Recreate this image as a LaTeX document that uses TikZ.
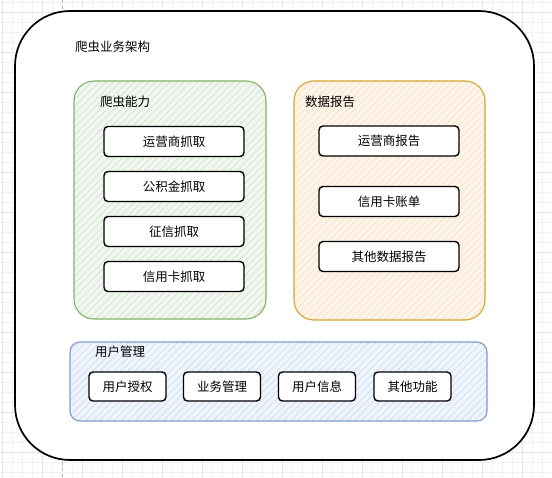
\documentclass[tikz,border=0pt]{standalone}
\usepackage{fontspec}
\setmainfont{Noto Sans CJK SC}
\usetikzlibrary{patterns.meta}
\definecolor{gridminor}{HTML}{F1F1F1}
\definecolor{gridmajor}{HTML}{E4E4E4}
\definecolor{grnline}{HTML}{82B366}
\definecolor{grnfill}{HTML}{CFE3CC}
\definecolor{orgline}{HTML}{D6A42E}
\definecolor{orgfill}{HTML}{F8E0C2}
\definecolor{bluline}{HTML}{7E9CC8}
\definecolor{blufill}{HTML}{CCDCF2}
\tikzset{
  group/.style={line width=1.1pt, rounded corners=20pt},
  item/.style={draw=black, line width=1.4pt, fill=white, rounded corners=4pt,
    minimum width=140pt, minimum height=30pt, inner sep=0pt, font=\fontsize{12.5pt}{14pt}\selectfont},
  smallitem/.style={item, minimum width=77pt, minimum height=29pt},
  title/.style={anchor=west, inner sep=0pt, font=\fontsize{12.5pt}{14pt}\selectfont},
}
\begin{document}
\begin{tikzpicture}[x=1pt,y=-1pt]
\useasboundingbox (0,0) rectangle (552,478);
\fill[white] (0,0) rectangle (552,478);
% grid background
\foreach \i in {2,12,...,552} \draw[gridminor, line width=0.5pt] (\i,0) -- (\i,478);
\foreach \j in {2,12,...,478} \draw[gridminor, line width=0.5pt] (0,\j) -- (552,\j);
\foreach \i in {2,42,...,552} \draw[gridmajor, line width=0.6pt] (\i,0) -- (\i,478);
\foreach \j in {12,52,...,478} \draw[gridmajor, line width=0.6pt] (0,\j) -- (552,\j);
\draw[gray!60, dashed, line width=0.5pt] (62,0) -- (62,478);
% outer frame
\node[draw=black, fill=white, line width=1.7pt, rounded corners=55pt, minimum width=519pt, minimum height=449pt, inner sep=0pt] (outer) at (274.5,235.5) {};
\node[title] (toptitle) at (75,47) {爬虫业务架构};
% groups
\node[group, draw=grnline, minimum width=192pt, minimum height=238pt, inner sep=0pt,
  preaction={fill=grnfill!30},
  pattern={Lines[angle=45,distance=5pt,line width=0.7pt]}, pattern color=grnfill] (crawl) at (170,200) {};
\node[group, draw=orgline, minimum width=191pt, minimum height=239pt, inner sep=0pt,
  preaction={fill=orgfill!35},
  pattern={Lines[angle=45,distance=5pt,line width=0.7pt]}, pattern color=orgfill] (report) at (389.5,200.5) {};
\node[group, rounded corners=10pt, draw=bluline, minimum width=417pt, minimum height=79pt, inner sep=0pt,
  preaction={fill=blufill!30},
  pattern={Lines[angle=45,distance=5pt,line width=0.7pt]}, pattern color=blufill] (user) at (278.5,381.5) {};
\node[title] (crawlt) at (100,102) {爬虫能力};
\node[title] (reportt) at (305,102) {数据报告};
\node[title] (usert) at (95,352) {用户管理};
% crawler items
\node[item] (c1) at (174,141.5) {运营商抓取};
\node[item] (c2) at (174,186.5) {公积金抓取};
\node[item] (c3) at (174,231.5) {征信抓取};
\node[item] (c4) at (174,276.5) {信用卡抓取};
% report items
\node[item] (r1) at (389,141) {运营商报告};
\node[item] (r2) at (389,201.5) {信用卡账单};
\node[item] (r3) at (389,256.5) {其他数据报告};
% user items
\node[smallitem] (u1) at (127.5,386.5) {用户授权};
\node[smallitem] (u2) at (222,386.5) {业务管理};
\node[smallitem] (u3) at (317,386.5) {用户信息};
\node[smallitem] (u4) at (412.5,386.5) {其他功能};
\end{tikzpicture}
\end{document}
